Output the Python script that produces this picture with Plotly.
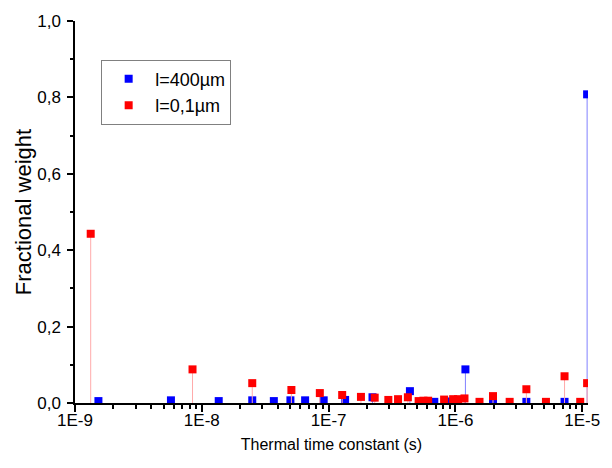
import plotly.graph_objects as go

# Blue series: l=400µm
tau_blue = [1.53e-9, 5.71e-9, 1.36e-8, 2.5e-8, 3.7e-8, 5.0e-8, 6.53e-8, 9.15e-8, 1.35e-7,
            2.22e-7, 4.38e-7, 6.82e-7, 8.9e-7, 1.2e-6, 1.98e-6, 3.63e-6, 7.26e-6, 1.094e-5]
w_blue = [0.005, 0.007, 0.005, 0.007, 0.005, 0.007, 0.007, 0.007, 0.008,
          0.015, 0.031, 0.003, 0.004, 0.088, 0.003, 0.003, 0.003, 0.808]

# Red series: l=0,1µm
tau_red = [1.33e-9, 8.45e-9, 2.5e-8, 5.09e-8, 8.53e-8, 1.28e-7, 1.8e-7, 2.31e-7, 2.96e-7,
           3.53e-7, 4.22e-7, 5.13e-7, 5.6e-7, 6.1e-7, 8.15e-7, 9.6e-7, 1.05e-6, 1.18e-6,
           1.55e-6, 1.98e-6, 2.68e-6, 3.63e-6, 5.18e-6, 7.26e-6, 9.65e-6, 1.094e-5]
w_red = [0.443, 0.088, 0.052, 0.034, 0.026, 0.021, 0.016, 0.014, 0.008,
         0.010, 0.015, 0.005, 0.006, 0.006, 0.009, 0.010, 0.010, 0.012,
         0.003, 0.018, 0.003, 0.036, 0.003, 0.070, 0.003, 0.052]

series_names = ["l=400µm", "l=0,1µm"]
x_tickvals = [1e-9, 1e-8, 1e-7, 1e-6, 1e-5]
x_ticktext = ["1E-9", "1E-8", "1E-7", "1E-6", "1E-5"]
y_tickvals = [0.0, 0.2, 0.4, 0.6, 0.8, 1.0]
y_ticktext = ["0,0", "0,2", "0,4", "0,6", "0,8", "1,0"]

x_minor = [m * 10.0 ** e for e in range(-9, -4) for m in range(2, 10)]
y_minor = [0.1, 0.3, 0.5, 0.7, 0.9]

fig = go.Figure()

def add_series(tau, w, name, color, linecolor):
    fig.add_trace(go.Scatter(
        x=tau, y=w, mode="markers", name=name,
        marker=dict(symbol="square", size=8, color=color, line=dict(width=0)),
        error_y=dict(type="data", symmetric=False, array=[0] * len(w), arrayminus=w,
                     width=0, thickness=1, color=linecolor),
    ))

add_series(tau_blue, w_blue, series_names[0], "#0000ff", "#8080ff")
add_series(tau_red, w_red, series_names[1], "#ff0000", "#ffaaaa")

font = "Liberation Sans, Arial, sans-serif"
fig.update_layout(
    width=612, height=468,
    margin=dict(l=75, r=12, t=17, b=65),
    paper_bgcolor="white", plot_bgcolor="white",
    font=dict(family=font, size=17, color="black"),
    showlegend=True,
    legend=dict(x=0.051, y=0.899, xanchor="left", yanchor="top",
                bordercolor="#808080", borderwidth=1, bgcolor="white",
                font=dict(size=18), itemwidth=43, tracegroupgap=0),
    xaxis=dict(type="log", range=[-9, -4.954], showline=True, linecolor="black", linewidth=1.5,
               ticks="outside", ticklen=7, tickwidth=1.5, tickcolor="black",
               tickmode="array", tickvals=x_tickvals, ticktext=x_ticktext,
               ticklabelstandoff=-6,
               minor=dict(tickmode="array", tickvals=x_minor, ticks="outside", ticklen=4,
                          tickwidth=1.5, tickcolor="black"),
               showgrid=False, zeroline=False,
               title=dict(text="Thermal time constant (s)", font=dict(size=16), standoff=10)),
    yaxis=dict(range=[0, 1.0], showline=True, linecolor="black", linewidth=1.5,
               ticks="outside", ticklen=6, tickwidth=1.5, tickcolor="black",
               tickmode="array", tickvals=y_tickvals, ticktext=y_ticktext,
               ticklabelstandoff=3,
               minor=dict(tickmode="array", tickvals=y_minor, ticks="outside", ticklen=3,
                          tickwidth=1.5, tickcolor="black"),
               showgrid=False, zeroline=False,
               title=dict(text="Fractional weight", font=dict(size=22), standoff=0)),
)

fig.write_html("out.html")
